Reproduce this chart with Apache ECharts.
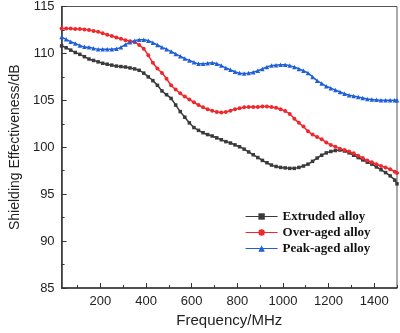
<!DOCTYPE html>
<html><head><meta charset="utf-8">
<script src="https://cdn.jsdelivr.net/npm/echarts@6/dist/echarts.min.js"></script>
<style>html,body{margin:0;padding:0;background:#fff}#c{width:400px;height:333px}</style>
</head><body><div id="c"></div>
<script>
const freq = [30,50,70,90,110,130,150,170,190,210,230,250,270,290,310,330,350,370,390,410,430,450,470,490,510,530,550,570,590,610,630,650,670,690,710,730,750,770,790,810,830,850,870,890,910,930,950,970,990,1010,1030,1050,1070,1090,1110,1130,1150,1170,1190,1210,1230,1250,1270,1290,1310,1330,1350,1370,1390,1410,1430,1450,1470,1490,1500];
const extruded = [110.8,110.6,110.35,110.1,109.9,109.65,109.4,109.25,109.1,108.95,108.85,108.75,108.65,108.6,108.55,108.45,108.35,108.2,107.9,107.5,107.1,106.6,106.0,105.6,105.2,104.5,103.8,103.2,102.6,102.1,101.8,101.55,101.35,101.2,101.0,100.8,100.6,100.45,100.25,100.05,99.8,99.5,99.2,98.9,98.6,98.35,98.1,97.95,97.85,97.8,97.75,97.75,97.85,98.0,98.2,98.5,98.85,99.15,99.4,99.55,99.65,99.7,99.6,99.4,99.15,98.9,98.65,98.4,98.2,97.9,97.6,97.3,96.95,96.5,96.1];
const overAged = [112.65,112.65,112.65,112.6,112.6,112.55,112.5,112.4,112.3,112.15,112.0,111.85,111.7,111.55,111.4,111.3,111.2,110.9,110.5,109.8,109.0,108.4,107.9,107.3,106.6,106.15,105.75,105.4,105.1,104.8,104.5,104.25,104.05,103.9,103.75,103.7,103.75,103.9,104.05,104.15,104.25,104.3,104.3,104.3,104.35,104.35,104.3,104.2,104.05,103.85,103.55,103.05,102.6,102.2,101.7,101.35,101.1,100.85,100.5,100.25,100.05,99.85,99.7,99.55,99.35,99.1,98.85,98.6,98.4,98.2,98.0,97.85,97.65,97.4,97.25];
const peakAged = [111.75,111.5,111.25,111.05,110.85,110.7,110.65,110.55,110.45,110.45,110.45,110.45,110.5,110.65,110.95,111.2,111.35,111.45,111.45,111.35,111.15,110.9,110.65,110.45,110.2,109.95,109.7,109.45,109.25,109.05,108.9,108.9,108.95,109.0,108.9,108.7,108.45,108.25,108.05,107.9,107.85,107.9,108.0,108.15,108.35,108.55,108.7,108.75,108.8,108.8,108.7,108.55,108.35,108.15,107.9,107.5,107.1,106.8,106.5,106.3,106.1,105.9,105.7,105.55,105.45,105.35,105.25,105.15,105.1,105.05,105.0,105.0,105.0,105.0,105.0];
const xMajorTicks = [200,400,600,800,1000,1200,1400];
const xMinorTicks = [100,300,500,700,900,1100,1300,1500];
const seriesNames = ['Extruded alloy','Over-aged alloy','Peak-aged alloy'];

const pair = arr => freq.map((f,i)=>[f,arr[i]]);
const colors = ['#3a3a3a','#f0282d','#1f5fd8'];
const symbols = ['rect','circle','triangle'];
const sizes = [3.5,4,4.5];
const datas = [extruded, overAged, peakAged];
const axisColor = '#333';
const lab = {color:'#222', fontFamily:'Liberation Sans, Arial, sans-serif', fontSize:13};

const chart = echarts.init(document.getElementById('c'), null, {renderer:'canvas'});
chart.setOption({
  animation:false,
  grid:{left:44, right:3, top:6, bottom:43, show:true, borderColor:'#555', borderWidth:1, backgroundColor:'transparent'},
  legend:{
    orient:'vertical', left:240, top:205, itemWidth:32, itemHeight:8, itemGap:3,
    textStyle:{fontFamily:'Liberation Serif, Times New Roman, serif', fontWeight:'bold', fontSize:13, color:'#111'},
    data:seriesNames.map(n=>({name:n, itemStyle:{}, lineStyle:{width:1.2}}))
  },
  xAxis:[{
    type:'value', min:30, max:1500,
    axisLine:{lineStyle:{color:axisColor,width:1.5}},
    axisTick:{inside:true, length:5, customValues:xMajorTicks, lineStyle:{color:axisColor}},
    axisLabel:Object.assign({customValues:xMajorTicks, margin:7, formatter:v=>String(v)}, lab),
    splitLine:{show:false},
    name:'Frequency/MHz', nameLocation:'middle', nameGap:25,
    nameTextStyle:Object.assign({}, lab, {fontSize:15})
  },{
    type:'value', min:30, max:1500, position:'bottom',
    axisLine:{show:false},
    axisTick:{inside:true, length:3, customValues:xMinorTicks, lineStyle:{color:axisColor}},
    axisLabel:{show:false}, splitLine:{show:false}
  }],
  yAxis:{
    type:'value', min:85, max:115, interval:5,
    axisLine:{show:true, lineStyle:{color:axisColor,width:1.5}},
    axisTick:{show:true, inside:true, length:5, lineStyle:{color:axisColor}},
    minorTick:{show:true, splitNumber:2, length:3, lineStyle:{color:axisColor}},
    axisLabel:Object.assign({margin:7}, lab),
    splitLine:{show:false},
    name:'Shielding Effectiveness/dB', nameLocation:'middle', nameGap:34,
    nameTextStyle:Object.assign({}, lab, {fontSize:14})
  },
  series: seriesNames.map((n,i)=>({
    name:n, type:'line', xAxisIndex:0, data:pair(datas[i]),
    smooth:0.3, symbol:symbols[i], symbolSize:sizes[i], showSymbol:true,
    itemStyle:{color:colors[i]}, lineStyle:{color:colors[i], width:1.5}
  }))
});
</script></body></html>
